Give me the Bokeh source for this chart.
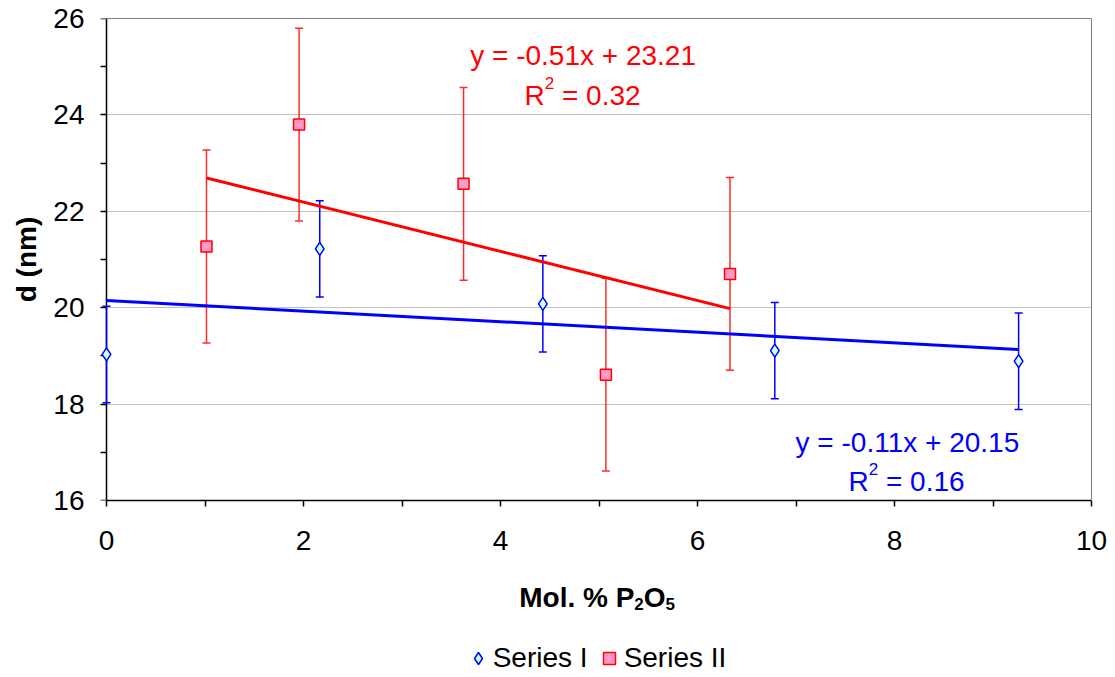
from bokeh.plotting import figure
from bokeh.layouts import column, row
from bokeh.models import (ColumnDataSource, Whisker, TeeHead, Label, Legend,
                          LegendItem, FixedTicker, Range1d, LinearAxis,
                          BoxAnnotation)
from bokeh.embed import file_html
from bokeh.resources import INLINE

# ---- data -------------------------------------------------------------
# Series I: particle size d (nm) vs. mol. % P2O5
x_series1 = [0.0, 2.165, 4.43, 6.785, 9.26]
y_series1 = [19.03, 21.22, 20.08, 19.11, 18.89]
err_series1 = [1.0, 1.0, 1.0, 1.0, 1.0]

# Series II
x_series2 = [1.015, 1.955, 3.625, 5.07, 6.33]
y_series2 = [21.27, 23.80, 22.57, 18.61, 20.70]
err_series2 = [2.0, 2.0, 2.0, 2.0, 2.0]

# linear trend lines: (slope, intercept, R^2)
fit_series1 = (-0.11, 20.15, 0.16)
fit_series2 = (-0.51, 23.21, 0.32)

series_names = ["Series I", "Series II"]
x_major = [0, 2, 4, 6, 8, 10]
x_minor = [1, 3, 5, 7, 9]
y_major = [16, 18, 20, 22, 24, 26]
y_minor = [17, 19, 21, 23, 25]
y_grid = [18, 20, 22, 24]
x_lim = (0, 10)
y_lim = (16, 26)

# ---- styling / page geometry -------------------------------------------
FONT = "Liberation Sans"
FS = "28px"
FS_SMALL = "17px"
EM = 28.0
EM_S = 17.0
BLUE = "#0000FF"
RED = "#FF0000"
RED_BAR = "#FF2A2A"
GRAY = "#808080"
MARKER_FILL_1 = "#CCFFFF"
MARKER_FILL_2 = "#FF99CC"
TOP_LEVEL = "annotation"              # data marks are drawn above the axes

W, H = 1115, 677
TOP_H = 572                            # height of the chart itself
FL, FR, FT, FB = 99, 1091, 18, 500     # plot frame edges on the page
X0_PX = 106                            # page x of x = 0, where the y axis sits
pad_left = (X0_PX - FL) / (FR - X0_PX) * (x_lim[1] - x_lim[0])


def label(fig, text, x, y, size=FS, color="#000000", align="left",
          style="normal"):
    fig.add_layout(Label(x=x, y=y, x_units="screen", y_units="screen",
                         text=text, text_font=FONT, text_font_size=size,
                         text_color=color, text_align=align,
                         text_baseline="alphabetic", text_font_style=style))


# ---- main chart -------------------------------------------------------
p = figure(width=W, height=TOP_H, output_backend="svg",
           toolbar_location=None,
           x_range=Range1d(x_lim[0] - pad_left, x_lim[1]),
           y_range=Range1d(*y_lim),
           min_border_left=FL, min_border_right=W - FR,
           min_border_top=FT, min_border_bottom=TOP_H - FB)
p.title.visible = False
p.background_fill_color = "white"
p.border_fill_color = "white"
p.outline_line_color = None

# x axis, spanning 0..10
xa = p.xaxis[0]
xa.ticker = FixedTicker(ticks=x_major, minor_ticks=x_minor)
xa.bounds = x_lim
xa.major_label_standoff = 24

# y axis labels and title (left side)
ya = p.yaxis[0]
ya.ticker = FixedTicker(ticks=y_major)
ya.axis_line_color = None
ya.major_tick_line_color = None
ya.minor_tick_line_color = None
ya.major_tick_in = 0
ya.major_tick_out = 0
ya.major_label_standoff = FL - 84
ya.axis_label = "d (nm)"
ya.axis_label_text_font = FONT
ya.axis_label_text_font_size = FS
ya.axis_label_text_font_style = "bold"
ya.axis_label_text_color = "#000000"
ya.axis_label_standoff = 8

# y axis line and ticks drawn at x = 0
yline = LinearAxis(fixed_location=x_lim[0],
                   ticker=FixedTicker(ticks=y_major, minor_ticks=y_minor),
                   major_label_overrides={t: "" for t in y_major})
yline.major_tick_in = 6
yline.major_tick_out = 0
yline.minor_tick_in = 6
yline.minor_tick_out = 0
yline.major_label_standoff = 0
p.add_layout(yline, "right")

for ax in (xa, yline):
    ax.axis_line_color = "#000000"
    ax.axis_line_width = 1.5
    ax.major_tick_line_color = "#000000"
    ax.minor_tick_line_color = "#000000"
    ax.major_tick_line_width = 1.5
    ax.minor_tick_line_width = 1.5
xa.major_tick_in = 0
xa.major_tick_out = 6
xa.minor_tick_in = 0
xa.minor_tick_out = 6
for ax in (xa, ya, yline):
    ax.major_label_text_font = FONT
    ax.major_label_text_font_size = FS
    ax.major_label_text_color = "#000000"

# plot-area border on top and right
for place in ("above", "right"):
    border = LinearAxis(ticker=FixedTicker(ticks=[]), axis_line_color=GRAY,
                        axis_line_width=1, major_tick_line_color=None,
                        minor_tick_line_color=None,
                        major_label_text_font_size="0px")
    if place == "above":
        border.bounds = x_lim
    p.add_layout(border, place)

# grid
p.xgrid.visible = False
p.ygrid.ticker = FixedTicker(ticks=y_grid)
p.ygrid.grid_line_color = GRAY
p.ygrid.grid_line_dash = "1 1"
p.ygrid.grid_line_width = 1

# blank strip left of x = 0 (keeps grid lines inside the plot area)
p.renderers.append(BoxAnnotation(right=x_lim[0], fill_color="white",
                                 fill_alpha=1, line_alpha=0, level="glyph"))


# error bars
def error_source(xs, ys, es):
    return ColumnDataSource(dict(
        x=xs, y=ys,
        lo=[y - e for y, e in zip(ys, es)],
        hi=[y + e for y, e in zip(ys, es)]))


for xs, ys, es, col in ((x_series2, y_series2, err_series2, RED_BAR),
                        (x_series1, y_series1, err_series1, BLUE)):
    wk = Whisker(source=error_source(xs, ys, es), base="x", lower="lo",
                 upper="hi", dimension="height", line_color=col, line_width=1.5,
                 upper_head=TeeHead(size=8, line_color=col, line_width=1.5),
                 lower_head=TeeHead(size=8, line_color=col, line_width=1.5),
                 level=TOP_LEVEL)
    p.renderers.append(wk)

# markers
MARK1 = dict(marker="diamond", size=13, fill_color=MARKER_FILL_1,
             line_color=BLUE, line_width=1.5)
MARK2 = dict(marker="square", size=11, fill_color=MARKER_FILL_2,
             line_color=RED, line_width=1.5)
p.scatter(x_series1, y_series1, level=TOP_LEVEL, **MARK1)
p.scatter(x_series2, y_series2, level=TOP_LEVEL, **MARK2)

# trend lines
for xs, fit, col in ((x_series2, fit_series2, RED), (x_series1, fit_series1, BLUE)):
    xe = [min(xs), max(xs)]
    ye = [fit[0] * v + fit[1] for v in xe]
    p.line(xe, ye, line_color=col, line_width=3, level=TOP_LEVEL)


def eq_text(fit):
    sign = "-" if fit[0] < 0 else "+"
    return f"y = {sign}{abs(fit[0]):.2f}x + {fit[1]:.2f}"


def in_p(cx, cy):
    """page position -> screen position inside the main frame"""
    return cx - FL, FB - cy


def r2_block(fit, cx, cy, color):
    label(p, "R", *in_p(cx, cy), color=color)
    x_sup = cx + 0.722 * EM
    label(p, "2", *in_p(x_sup, cy - 13), size=FS_SMALL, color=color)
    label(p, f"= {fit[2]:.2f}", *in_p(x_sup + 0.556 * EM_S + 0.278 * EM, cy),
          color=color)


label(p, eq_text(fit_series2), *in_p(582.6, 55), color=RED, align="center")
r2_block(fit_series2, 524, 95, RED)
label(p, eq_text(fit_series1), *in_p(906.9, 442), color=BLUE, align="center")
r2_block(fit_series1, 848, 481, BLUE)

# ---- x-axis title and legend strip ------------------------------------
BOT_H = H - TOP_H
qb = figure(width=W, height=BOT_H, output_backend="svg", toolbar_location=None,
            x_axis_type=None, y_axis_type=None,
            x_range=Range1d(0, W), y_range=Range1d(0, BOT_H),
            min_border=0, min_border_left=0, min_border_right=0,
            min_border_top=0, min_border_bottom=0)
qb.title.visible = False
qb.outline_line_color = None
qb.grid.visible = False


def in_b(cx, cy):
    return cx, H - cy


x0 = 518.7
label(qb, "Mol. % P", *in_b(x0, 597), style="bold")
x0 += 4.112 * EM
label(qb, "2", *in_b(x0, 603), size=FS_SMALL, style="bold")
x0 += 0.556 * EM_S
label(qb, "O", *in_b(x0, 597), style="bold")
x0 += 0.778 * EM
label(qb, "5", *in_b(x0, 603), size=FS_SMALL, style="bold")

# legend entries use hidden copies of the two series' markers
k1 = qb.scatter(x_series1, y_series1, visible=False, **MARK1)
k2 = qb.scatter(x_series2, y_series2, visible=False, **MARK2)
legend = Legend(items=[LegendItem(label=series_names[0], renderers=[k1]),
                       LegendItem(label=series_names[1], renderers=[k2])],
                orientation="horizontal", location=in_b(462.7, 674),
                glyph_width=30, glyph_height=30, label_standoff=0,
                spacing=6, padding=0, margin=0,
                border_line_color=None, background_fill_alpha=0,
                inactive_fill_alpha=0,
                label_text_font=FONT, label_text_font_size=FS,
                label_text_color="#000000")
qb.add_layout(legend)

# the row keeps the strip below from being aligned to the chart's frame
page = column(row(p, spacing=0), qb, spacing=0)
open("out.html", "w").write(file_html(page, INLINE))
